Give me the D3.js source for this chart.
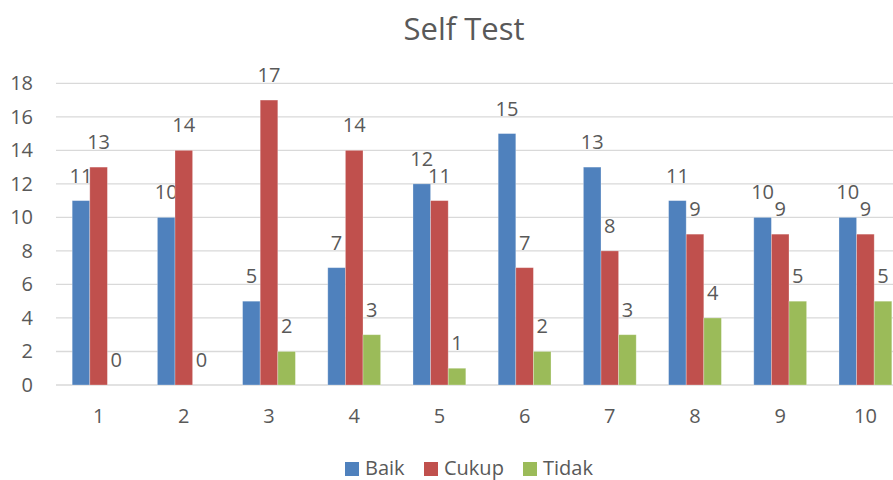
<!DOCTYPE html>
<html><head><meta charset="utf-8">
<script src="https://cdn.jsdelivr.net/npm/d3@7"></script>
<style>body{margin:0;background:#fff;overflow:hidden}svg{display:block}text{font-family:"Open Sans","Noto Sans",sans-serif;fill:#595959}</style>
</head><body><svg id="c" width="893" height="480"></svg>
<script>
const categories = ["1","2","3","4","5","6","7","8","9","10"];
const seriesNames = ["Baik","Cukup","Tidak"];
const baik  = [11,10,5,7,12,15,13,11,10,10];
const cukup = [13,14,17,14,11,7,8,9,9,9];
const tidak = [0,0,2,3,1,2,3,4,5,5];
const yTicks = [0,2,4,6,8,10,12,14,16,18];
const colors = ["#4F81BD","#C0504D","#9BBB59"];
const title = "Self Test";

(function(){
const series = [baik, cukup, tidak];
const svg = d3.select("#c");
const pl = 56, pr = 908, pt = 83.3, pb = 385;
const FONT = '"Open Sans","Noto Sans",sans-serif';
const FS = 20;

const x = d3.scaleBand().domain(categories).range([pl, pr]);
const y = d3.scaleLinear().domain([0, 18]).range([pb, pt]);
const inner = d3.scaleBand().domain(seriesNames).range([x.bandwidth()*0.19, x.bandwidth()*0.81]);

svg.append("g").selectAll("line").data(yTicks).join("line")
  .attr("x1", pl).attr("x2", pr)
  .attr("y1", d => y(d)).attr("y2", d => y(d))
  .attr("stroke", "#D9D9D9").attr("stroke-width", 1.3);

const ga = svg.append("g").attr("transform", "translate(33,0)").call(d3.axisLeft(y).tickValues(yTicks).tickSize(0).tickPadding(0));
ga.select(".domain").remove();
ga.selectAll("text").attr("font-size", FS).attr("fill", "#595959").style("font-family", FONT);

const gx = svg.append("g").attr("transform", `translate(0,${pb})`).call(d3.axisBottom(x).tickSize(0).tickPadding(0));
gx.select(".domain").remove();
gx.selectAll("text").attr("font-size", FS).attr("dy", null).attr("y", 38).attr("fill", "#595959").style("font-family", FONT);

seriesNames.forEach((s, si) => {
  const g = svg.append("g");
  g.selectAll("rect").data(categories).join("rect")
    .attr("x", c => x(c) + inner(s))
    .attr("width", inner.bandwidth())
    .attr("y", (c, i) => y(series[si][i]))
    .attr("height", (c, i) => y(0) - y(series[si][i]))
    .attr("fill", colors[si])
    .attr("stroke", "#ffffff").attr("stroke-opacity", 0.35).attr("stroke-width", 0.8);
  g.selectAll("text").data(categories).join("text")
    .attr("x", c => x(c) + inner(s) + inner.bandwidth()/2)
    .attr("y", (c, i) => y(series[si][i]) - 18)
    .attr("text-anchor", "middle").attr("font-size", FS)
    .attr("fill", "#404040")
    .text((c, i) => series[si][i]);
});

svg.append("text").attr("x", 464).attr("y", 40).attr("text-anchor", "middle")
  .attr("font-size", 31).attr("fill", "#595959").text(title);

const legX = [345, 424, 523];
seriesNames.forEach((s, i) => {
  svg.append("rect").attr("x", legX[i]).attr("y", 462).attr("width", 14).attr("height", 14).attr("fill", colors[i]);
  svg.append("text").attr("x", legX[i] + 20).attr("y", 475).attr("font-size", FS).attr("fill", "#595959").text(s);
});
})();
</script></body></html>
